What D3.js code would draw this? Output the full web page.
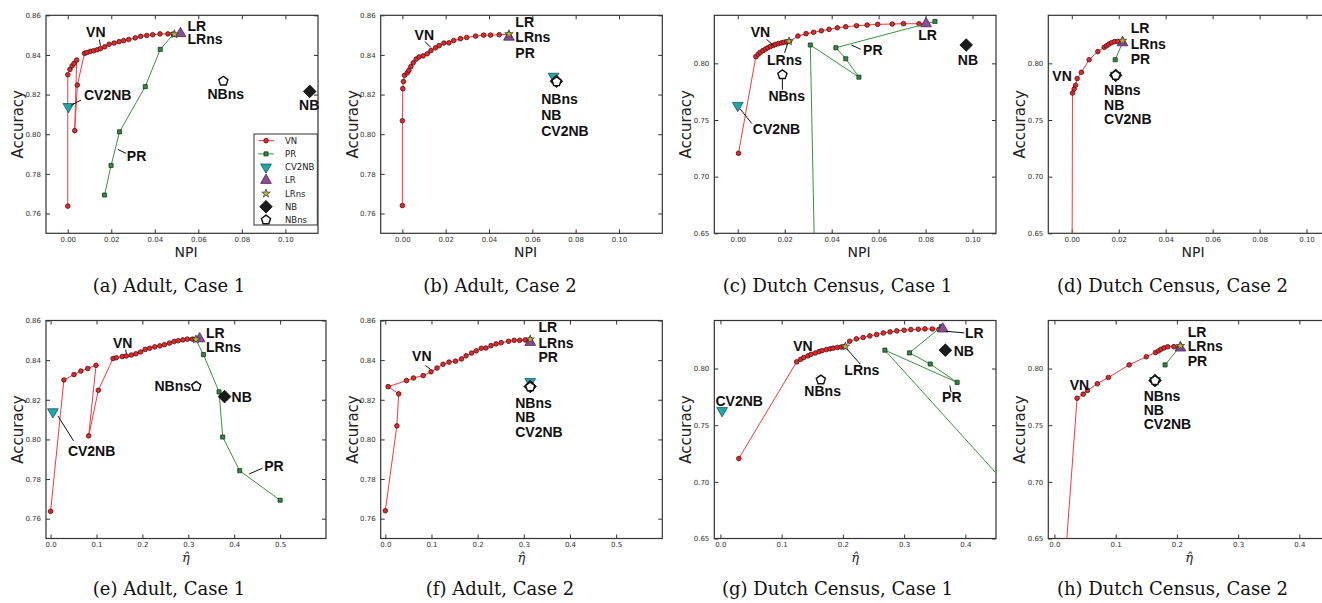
<!DOCTYPE html>
<html>
<head>
<meta charset="utf-8">
<script src="https://cdn.jsdelivr.net/npm/d3@7"></script>
<style>
  body { margin: 0; background: #fff; }
  svg { display: block; }
</style>
</head>
<body>
<svg id="fig" width="1322" height="603"></svg>
<script>
// ---- data: accuracy vs NPI / eta-hat, one set per dataset & case ----

// Adult, case 1
var adult1VnAcc = [0.7637, 0.8300, 0.8327, 0.8345, 0.8358, 0.8374, 0.8018, 0.8248, 0.8408, 0.8412, 0.8418, 0.8421, 0.8426, 0.8432, 0.8441, 0.8454, 0.8460, 0.8467, 0.8472, 0.8478, 0.8486, 0.8494, 0.8498, 0.8502, 0.8506, 0.8506, 0.8505];
var adult1VnNpi = [0.0000, 0.0000, 0.0010, 0.0020, 0.0029, 0.0041, 0.0032, 0.0044, 0.0077, 0.0088, 0.0104, 0.0119, 0.0135, 0.0150, 0.0170, 0.0190, 0.0213, 0.0236, 0.0257, 0.0280, 0.0310, 0.0335, 0.0363, 0.0390, 0.0424, 0.0460, 0.0486];
var adult1VnEta = [0.000, 0.029, 0.051, 0.066, 0.081, 0.099, 0.083, 0.104, 0.136, 0.143, 0.156, 0.165, 0.176, 0.186, 0.196, 0.206, 0.216, 0.227, 0.238, 0.248, 0.259, 0.269, 0.278, 0.288, 0.298, 0.309, 0.317];
var adult1PrAcc = [0.7693, 0.7842, 0.8012, 0.8240, 0.8428, 0.8505];
var adult1PrNpi = [0.0169, 0.0199, 0.0238, 0.0356, 0.0425, 0.0486];
var adult1PrEta = [0.500, 0.412, 0.375, 0.367, 0.333, 0.316];

// Adult, case 2
var adult2VnAcc = [0.7640, 0.8068, 0.8230, 0.8266, 0.8297, 0.8310, 0.8322, 0.8341, 0.8360, 0.8379, 0.8390, 0.8395, 0.8406, 0.8422, 0.8436, 0.8447, 0.8460, 0.8461, 0.8473, 0.8482, 0.8488, 0.8495, 0.8500, 0.8500, 0.8502, 0.8504];
var adult2VnNpi = [0.0000, 0.0000, 0.0002, 0.0005, 0.0010, 0.0023, 0.0030, 0.0039, 0.0050, 0.0064, 0.0077, 0.0096, 0.0115, 0.0132, 0.0153, 0.0170, 0.0192, 0.0215, 0.0237, 0.0268, 0.0297, 0.0338, 0.0375, 0.0407, 0.0447, 0.0490];
var adult2VnEta = [0.000, 0.025, 0.029, 0.006, 0.046, 0.061, 0.082, 0.099, 0.112, 0.125, 0.138, 0.152, 0.165, 0.175, 0.187, 0.197, 0.208, 0.218, 0.229, 0.240, 0.251, 0.267, 0.279, 0.291, 0.303, 0.314];
var adult2PrAcc = [0.8490];
var adult2PrNpi = [0.0492];
var adult2PrEta = [0.3139];

// Dutch Census, case 1
var dutch1VnAcc = [0.7206, 0.8059, 0.8081, 0.8097, 0.8112, 0.8126, 0.8137, 0.8149, 0.8158, 0.8167, 0.8174, 0.8180, 0.8186, 0.8190, 0.8194, 0.8241, 0.8262, 0.8274, 0.8288, 0.8300, 0.8314, 0.8323, 0.8332, 0.8338, 0.8344, 0.8347, 0.8350, 0.8349, 0.8347];
var dutch1VnNpi = [0.0003, 0.0077, 0.0087, 0.0096, 0.0107, 0.0118, 0.0128, 0.0139, 0.0151, 0.0161, 0.0173, 0.0186, 0.0197, 0.0209, 0.0220, 0.0256, 0.0291, 0.0323, 0.0356, 0.0389, 0.0424, 0.0460, 0.0506, 0.0551, 0.0596, 0.0658, 0.0706, 0.0772, 0.0800];
var dutch1VnEta = [0.030, 0.1245, 0.131, 0.136, 0.143, 0.148, 0.155, 0.161, 0.166, 0.173, 0.179, 0.184, 0.191, 0.197, 0.202, 0.211, 0.222, 0.233, 0.244, 0.255, 0.266, 0.277, 0.288, 0.300, 0.311, 0.323, 0.334, 0.346, 0.357];
var dutch1PrAcc = [0.5500, 0.8162, 0.7878, 0.8040, 0.8138, 0.8370];
var dutch1PrNpi = [0.0335, 0.0309, 0.0516, 0.0460, 0.0418, 0.0840];
var dutch1PrEta = [0.714, 0.2686, 0.3865, 0.3426, 0.3087, 0.361];

// Dutch Census, case 2
var dutch2VnAcc = [0.5000, 0.7738, 0.7774, 0.7807, 0.7866, 0.7921, 0.8032, 0.8104, 0.8141, 0.8155, 0.8170, 0.8182, 0.8192, 0.8193];
var dutch2VnNpi = [0.0000, 0.0003, 0.0010, 0.0016, 0.0023, 0.0041, 0.0074, 0.0111, 0.0138, 0.0148, 0.0158, 0.0169, 0.0182, 0.0196];
var dutch2VnEta = [0.000, 0.037, 0.047, 0.054, 0.070, 0.088, 0.122, 0.150, 0.165, 0.170, 0.174, 0.179, 0.185, 0.195];
var dutch2PrAcc = [0.8032, 0.8182];
var dutch2PrNpi = [0.0185, 0.0216];
var dutch2PrEta = [0.1807, 0.2030];

// single-point classifiers, order = pointMethods
var pointMethods = ["CV2NB", "LR", "LRns", "NB", "NBns"];
var adult1PtAcc = [0.8139, 0.8508, 0.8505, 0.8216, 0.8268];
var adult1PtNpi = [0.0003, 0.0518, 0.0490, 0.1112, 0.0715];
var adult1PtEta = [0.005, 0.3246, 0.3167, 0.379, 0.3174];
var adult2PtAcc = [0.8292, 0.8490, 0.8505, 0.8267, 0.8265];
var adult2PtNpi = [0.0698, 0.0492, 0.0492, 0.0711, 0.0712];
var adult2PtEta = [0.3139, 0.3139, 0.3139, 0.3139, 0.3139];
var dutch1PtAcc = [0.7628, 0.8350, 0.8195, 0.8162, 0.7900];
var dutch1PtNpi = [0.0000, 0.0802, 0.0218, 0.0973, 0.0190];
var dutch1PtEta = [0.0027, 0.3630, 0.2040, 0.3673, 0.1640];
var dutch2PtAcc = [0.7894, 0.8182, 0.8200, 0.7894, 0.7894];
var dutch2PtNpi = [0.0187, 0.0216, 0.0216, 0.0187, 0.0187];
var dutch2PtEta = [0.1643, 0.2057, 0.2057, 0.1643, 0.1643];

// ticks
var npiTicks = [0, 0.02, 0.04, 0.06, 0.08, 0.10];
var etaTicksAdult = [0, 0.1, 0.2, 0.3, 0.4, 0.5];
var etaTicksDutch = [0, 0.1, 0.2, 0.3, 0.4];
var accTicksAdult = [0.76, 0.78, 0.80, 0.82, 0.84, 0.86];
var accTicksDutch = [0.65, 0.70, 0.75, 0.80];
var legendNames = ["VN", "PR", "CV2NB", "LR", "LRns", "NB", "NBns"];

// build lookup tables from the arrays above
function series(acc, npi, eta) {
  return acc.map(function(a, i) { return {acc: a, npi: npi[i], eta: eta[i]}; });
}
var cases = {
  adult1: {VN: series(adult1VnAcc, adult1VnNpi, adult1VnEta), PR: series(adult1PrAcc, adult1PrNpi, adult1PrEta), pts: series(adult1PtAcc, adult1PtNpi, adult1PtEta)},
  adult2: {VN: series(adult2VnAcc, adult2VnNpi, adult2VnEta), PR: series(adult2PrAcc, adult2PrNpi, adult2PrEta), pts: series(adult2PtAcc, adult2PtNpi, adult2PtEta)},
  dutch1: {VN: series(dutch1VnAcc, dutch1VnNpi, dutch1VnEta), PR: series(dutch1PrAcc, dutch1PrNpi, dutch1PrEta), pts: series(dutch1PtAcc, dutch1PtNpi, dutch1PtEta)},
  dutch2: {VN: series(dutch2VnAcc, dutch2VnNpi, dutch2VnEta), PR: series(dutch2PrAcc, dutch2PrNpi, dutch2PrEta), pts: series(dutch2PtAcc, dutch2PtNpi, dutch2PtEta)}
};

// matplotlib-ish pentagon marker
var symbolPentagon = {
  draw: function(ctx, size) {
    var r = Math.sqrt(size / 2.3776);
    for (var k = 0; k < 5; k++) {
      var a = -Math.PI / 2 + k * 2 * Math.PI / 5;
      if (k) ctx.lineTo(r * Math.cos(a), r * Math.sin(a));
      else ctx.moveTo(r * Math.cos(a), r * Math.sin(a));
    }
    ctx.closePath();
  }
};

var mstyle = {
  VN:    {type: d3.symbolCircle,   size: 17, rot: 0,   fill: "#e8262a", stroke: "#3a0808", line: "#f23b3b"},
  PR:    {type: d3.symbolSquare,   size: 17, rot: 0,   fill: "#2e8a3c", stroke: "#122a14", line: "#3c923c"},
  CV2NB: {type: d3.symbolTriangle, size: 50, rot: 180, fill: "#1fa8aa", stroke: "#0c4647"},
  LR:    {type: d3.symbolTriangle, size: 50, rot: 0,   fill: "#8e4a9c", stroke: "#3a1a40"},
  LRns:  {type: d3.symbolStar,     size: 22, rot: 0,   fill: "#b9b833", stroke: "#333"},
  NB:    {type: d3.symbolSquare,   size: 80, rot: 45,  fill: "#1b1b1b", stroke: "#000"},
  NBns:  {type: symbolPentagon,    size: 55, rot: 0,   fill: "#ffffff", stroke: "#111"}
};

// ---- panel layout and annotation placement ----
var panels = [
  {c: "adult1", xf: "npi", left: 46,    top: 15.3,  w: 272,   h: 218, xd: [-0.01, 0.115], yd: [0.75, 0.86],   xt: npiTicks, yt: accTicksAdult, xfmt: ".2f", cap: "(a)  Adult, Case 1", capX: 169, capY: 292, legend: true,
   notes: [{t: "VN", m: "VN", i: 13, dx: -14.3, dy: -16.8, ld: [-1, -9, 0, -3]},
           {t: "LR", m: "LR", dx: 7, dy: -8}, {t: "LRns", m: "LR", dx: 7, dy: 5.8},
           {t: "CV2NB", m: "CV2NB", dx: 15.6, dy: -11.3, ld: [12.6, -6.6, 2.6, -1.3]},
           {t: "PR", m: "PR", i: 2, dx: 7.3, dy: 24.6, ld: [6.6, 21.6, -1.7, 17.6]},
           {t: "NBns", m: "NBns", dx: 2.4, dy: 12.7, a: "middle"},
           {t: "NB", m: "NB", dx: -0.5, dy: 13.4, a: "middle"}]},
  {c: "adult2", xf: "npi", left: 380.7, top: 15.3,  w: 281.6, h: 218, xd: [-0.01, 0.12],  yd: [0.75, 0.86],   xt: npiTicks, yt: accTicksAdult, xfmt: ".2f", cap: "(b)  Adult, Case 2", capX: 500, capY: 292,
   notes: [{t: "VN", m: "VN", i: 13, dx: -16.4, dy: -15.7, ld: [-6, -9, 0, -3]},
           {t: "LR", m: "LR", dx: 6.4, dy: -14.8}, {t: "LRns", m: "LR", dx: 6.4, dy: 0.2}, {t: "PR", m: "LR", dx: 6.4, dy: 15.8},
           {t: "NBns", m: "NBns", dx: -15.4, dy: 17}, {t: "NB", m: "NBns", dx: -15.4, dy: 33}, {t: "CV2NB", m: "NBns", dx: -15.4, dy: 49.7}]},
  {c: "dutch1", xf: "npi", left: 714.3, top: 15.3,  w: 281.7, h: 218, xd: [-0.01, 0.11],  yd: [0.65, 0.8424], xt: npiTicks, yt: accTicksDutch, xfmt: ".2f", cap: "(c)  Dutch Census, Case 1", capX: 837.5, capY: 292,
   notes: [{t: "VN", m: "VN", i: 9, dx: -24.9, dy: -12.8, ld: [-9, -5, -1, 2]},
           {t: "LRns", m: "LRns", dx: -4.4, dy: 18.3, a: "middle", ld: [-4.4, 11.6, -1.1, 1.6]},
           {t: "NBns", m: "NBns", dx: 4.3, dy: 21.7, a: "middle", ld: [0, 15, 0, 4.3]},
           {t: "CV2NB", m: "CV2NB", dx: 15, dy: 24, ld: [14, 18, 2.3, 3.3]},
           {t: "PR", m: "PR", i: 4, dx: 27.2, dy: 2.3, ld: [24.9, 1.6, 15.5, -2.7]},
           {t: "LR", m: "LR", dx: 1.5, dy: 11, a: "middle"},
           {t: "NB", m: "NB", dx: 1.7, dy: 15, a: "middle"}]},
  {c: "dutch2", xf: "npi", left: 1048.3, top: 15.3, w: 281.7, h: 218, xd: [-0.01, 0.11],  yd: [0.65, 0.8424], xt: npiTicks, yt: accTicksDutch, xfmt: ".2f", cap: "(d)  Dutch Census, Case 2", capX: 1172.5, capY: 292,
   notes: [{t: "VN", m: "VN", i: 4, dx: -24.8, dy: -2.8},
           {t: "LR", m: "LR", dx: 8.3, dy: -15.1}, {t: "LRns", m: "LR", dx: 8.3, dy: 0.9}, {t: "PR", m: "LR", dx: 8.3, dy: 16.5},
           {t: "NBns", m: "NBns", dx: -11.6, dy: 14.7}, {t: "NB", m: "NBns", dx: -11.6, dy: 29.7}, {t: "CV2NB", m: "NBns", dx: -11.6, dy: 44}]},
  {c: "adult1", xf: "eta", left: 46,    top: 320.5, w: 280,   h: 218, xd: [-0.01, 0.6],   yd: [0.75, 0.86],   xt: etaTicksAdult, yt: accTicksAdult, xfmt: ".1f", cap: "(e)  Adult, Case 1", capX: 169, capY: 595,
   notes: [{t: "VN", m: "VN", i: 11, dx: -13.4, dy: -13, ld: [-0.7, -6.4, 0, -2.4]},
           {t: "LR", m: "LR", dx: 6.4, dy: -5.5}, {t: "LRns", m: "LR", dx: 6.4, dy: 8.2},
           {t: "NBns", m: "NBns", dx: -5.3, dy: 0, a: "end"},
           {t: "NB", m: "NB", dx: 7, dy: 0.3},
           {t: "CV2NB", m: "CV2NB", dx: 15, dy: 39, ld: [20.7, 29, 5, 4]},
           {t: "PR", m: "PR", i: 1, dx: 24.5, dy: -4.8, ld: [22.8, -2.5, 9.5, 3.2]}]},
  {c: "adult2", xf: "eta", left: 380.7, top: 320.5, w: 281.6, h: 218, xd: [-0.01, 0.6],   yd: [0.75, 0.86],   xt: etaTicksAdult, yt: accTicksAdult, xfmt: ".1f", cap: "(f)  Adult, Case 2", capX: 500, capY: 595,
   notes: [{t: "VN", m: "VN", i: 7, dx: -18.9, dy: -15.4, ld: [-5.6, -6.4, -0.6, -2.5]},
           {t: "LR", m: "LR", dx: 8.3, dy: -15.5}, {t: "LRns", m: "LR", dx: 8.3, dy: 0.2}, {t: "PR", m: "LR", dx: 8.3, dy: 14.2},
           {t: "NBns", m: "NBns", dx: -15, dy: 16.4}, {t: "NB", m: "NBns", dx: -15, dy: 30.4}, {t: "CV2NB", m: "NBns", dx: -15, dy: 45.4}]},
  {c: "dutch1", xf: "eta", left: 714.3, top: 320.5, w: 281.7, h: 218, xd: [-0.01, 0.45],  yd: [0.65, 0.8424], xt: etaTicksDutch, yt: accTicksDutch, xfmt: ".1f", cap: "(g)  Dutch Census, Case 1", capX: 837.5, capY: 595,
   notes: [{t: "VN", m: "VN", i: 1, dx: -3.4, dy: -15.6},
           {t: "LR", m: "LR", dx: 22.3, dy: 3.7, ld: [3.3, 2.4, 21.6, 4]},
           {t: "NB", m: "NB", dx: 8.4, dy: 0.7},
           {t: "LRns", m: "LRns", dx: -1, dy: 23.4, ld: [1.7, 2.7, 15, 17.7]},
           {t: "NBns", m: "NBns", dx: 1.8, dy: 11.4, a: "middle"},
           {t: "CV2NB", m: "CV2NB", dx: -6.6, dy: -10},
           {t: "PR", m: "PR", i: 2, dx: -15, dy: 15.1, ld: [-7.3, 3.1, -6, 9.8]}]},
  {c: "dutch2", xf: "eta", left: 1048.3, top: 320.5, w: 281.7, h: 218, xd: [-0.01, 0.45], yd: [0.65, 0.8424], xt: etaTicksDutch, yt: accTicksDutch, xfmt: ".1f", cap: "(h)  Dutch Census, Case 2", capX: 1172.5, capY: 595,
   notes: [{t: "VN", m: "VN", i: 1, dx: -7.3, dy: -13},
           {t: "LR", m: "LR", dx: 7.4, dy: -15.6}, {t: "LRns", m: "LR", dx: 7.4, dy: -1.9}, {t: "PR", m: "LR", dx: 7.4, dy: 13.1},
           {t: "NBns", m: "NBns", dx: -11.3, dy: 15}, {t: "NB", m: "NBns", dx: -11.3, dy: 29}, {t: "CV2NB", m: "NBns", dx: -11.3, dy: 43.3}]}
];

var svg = d3.select("#fig");

function symbolPath(name) {
  return d3.symbol().type(mstyle[name].type).size(mstyle[name].size)();
}

function drawMarker(sel, name, px, py) {
  var s = mstyle[name];
  sel.append("path")
    .attr("d", symbolPath(name))
    .attr("transform", "translate(" + px + "," + py + ") rotate(" + s.rot + ")")
    .attr("fill", s.fill)
    .attr("stroke", s.stroke)
    .attr("stroke-width", name === "NBns" ? 1.4 : 0.7);
}

panels.forEach(function(p, pi) {
  var data = cases[p.c];
  var g = svg.append("g").attr("transform", "translate(" + p.left + "," + p.top + ")");

  var x = d3.scaleLinear().domain(p.xd).range([0, p.w]);
  var y = d3.scaleLinear().domain(p.yd).range([p.h, 0]);

  // clip marks to the axes box
  var clipId = "clip" + pi;
  g.append("clipPath").attr("id", clipId)
    .append("rect").attr("width", p.w).attr("height", p.h);

  // axes, ticks pointing inward on all four sides
  var fmt = d3.format(p.xfmt);
  var axB = g.append("g").attr("transform", "translate(0," + p.h + ")")
    .call(d3.axisBottom(x).tickValues(p.xt).tickFormat(fmt).tickSizeInner(-4).tickSizeOuter(0).tickPadding(4));
  var axT = g.append("g")
    .call(d3.axisTop(x).tickValues(p.xt).tickFormat("").tickSizeInner(-4).tickSizeOuter(0));
  var axL = g.append("g")
    .call(d3.axisLeft(y).tickValues(p.yt).tickFormat(d3.format(".2f")).tickSizeInner(-4).tickSizeOuter(0).tickPadding(5));
  var axR = g.append("g").attr("transform", "translate(" + p.w + ",0)")
    .call(d3.axisRight(y).tickValues(p.yt).tickFormat("").tickSizeInner(-4).tickSizeOuter(0));
  [axB, axT, axL, axR].forEach(function(a) {
    a.select(".domain").remove();
    a.selectAll("line").attr("stroke", "#333").attr("stroke-width", 1);
    a.selectAll("text").attr("font-family", "DejaVu Sans").attr("font-size", 7).attr("fill", "#333");
  });

  g.append("rect").attr("width", p.w).attr("height", p.h)
    .attr("fill", "none").attr("stroke", "#333").attr("stroke-width", 1.2);

  // axis titles
  g.append("text")
    .attr("transform", "translate(-28," + (p.h / 2) + ") rotate(-90)")
    .attr("text-anchor", "middle").attr("dominant-baseline", "central")
    .attr("font-family", "DejaVu Sans").attr("font-size", 15).attr("fill", "#222")
    .text("Accuracy");
  if (p.xf === "npi") {
    g.append("text").attr("x", p.w / 2 + 4).attr("y", p.h + 18.5)
      .attr("text-anchor", "middle").attr("dominant-baseline", "central")
      .attr("font-family", "DejaVu Sans").attr("font-size", 14).attr("fill", "#222")
      .text("NPI");
  } else {
    g.append("text").attr("x", p.w / 2).attr("y", p.h + 19)
      .attr("text-anchor", "middle").attr("dominant-baseline", "central")
      .attr("font-family", "DejaVu Serif").attr("font-style", "italic").attr("font-size", 13).attr("fill", "#222")
      .text("\u03B7\u0302");
  }

  // marks
  var plot = g.append("g").attr("clip-path", "url(#" + clipId + ")");
  var line = d3.line().x(function(d) { return x(d[p.xf]); }).y(function(d) { return y(d.acc); });

  ["VN", "PR"].forEach(function(name) {
    plot.append("path").datum(data[name])
      .attr("d", line).attr("fill", "none")
      .attr("stroke", mstyle[name].line).attr("stroke-width", 1);
    data[name].forEach(function(d) {
      drawMarker(plot, name, x(d[p.xf]), y(d.acc));
    });
  });
  pointMethods.forEach(function(name, k) {
    var d = data.pts[k];
    drawMarker(plot, name, x(d[p.xf]), y(d.acc));
  });

  // annotations
  p.notes.forEach(function(n) {
    var d = (n.m === "VN" || n.m === "PR") ? data[n.m][n.i] : data.pts[pointMethods.indexOf(n.m)];
    var ax = x(d[p.xf]), ay = y(d.acc);
    if (n.ld) {
      g.append("line")
        .attr("x1", ax + n.ld[0]).attr("y1", ay + n.ld[1])
        .attr("x2", ax + n.ld[2]).attr("y2", ay + n.ld[3])
        .attr("stroke", "#111").attr("stroke-width", 1);
    }
    g.append("text")
      .attr("x", ax + n.dx).attr("y", ay + n.dy)
      .attr("text-anchor", n.a || "start").attr("dominant-baseline", "central")
      .attr("font-family", "Liberation Sans, Arial, sans-serif").attr("font-weight", "bold")
      .attr("font-size", 14).attr("fill", "#111")
      .text(n.t);
  });

  // legend (panel a only)
  if (p.legend) {
    var lg = g.append("g").attr("transform", "translate(" + (p.w - 64) + "," + (p.h - 99.3) + ")");
    lg.append("rect").attr("width", 63.3).attr("height", 91)
      .attr("fill", "#fff").attr("stroke", "#333").attr("stroke-width", 1);
    legendNames.forEach(function(name, k) {
      var ly = 6.7 + k * 13.2;
      if (mstyle[name].line) {
        lg.append("line").attr("x1", 4.3).attr("x2", 20).attr("y1", ly).attr("y2", ly)
          .attr("stroke", mstyle[name].line).attr("stroke-width", 1);
      }
      drawMarker(lg, name, 12, ly);
      lg.append("text").attr("x", 31).attr("y", ly)
        .attr("dominant-baseline", "central")
        .attr("font-family", "DejaVu Sans").attr("font-size", 8.5).attr("fill", "#222")
        .text(name);
    });
  }

  // sub-caption
  svg.append("text").attr("x", p.capX).attr("y", p.capY)
    .attr("text-anchor", "middle")
    .attr("font-family", "DejaVu Serif").attr("font-size", 18).attr("fill", "#111")
    .text(p.cap);
});
</script>
</body>
</html>
